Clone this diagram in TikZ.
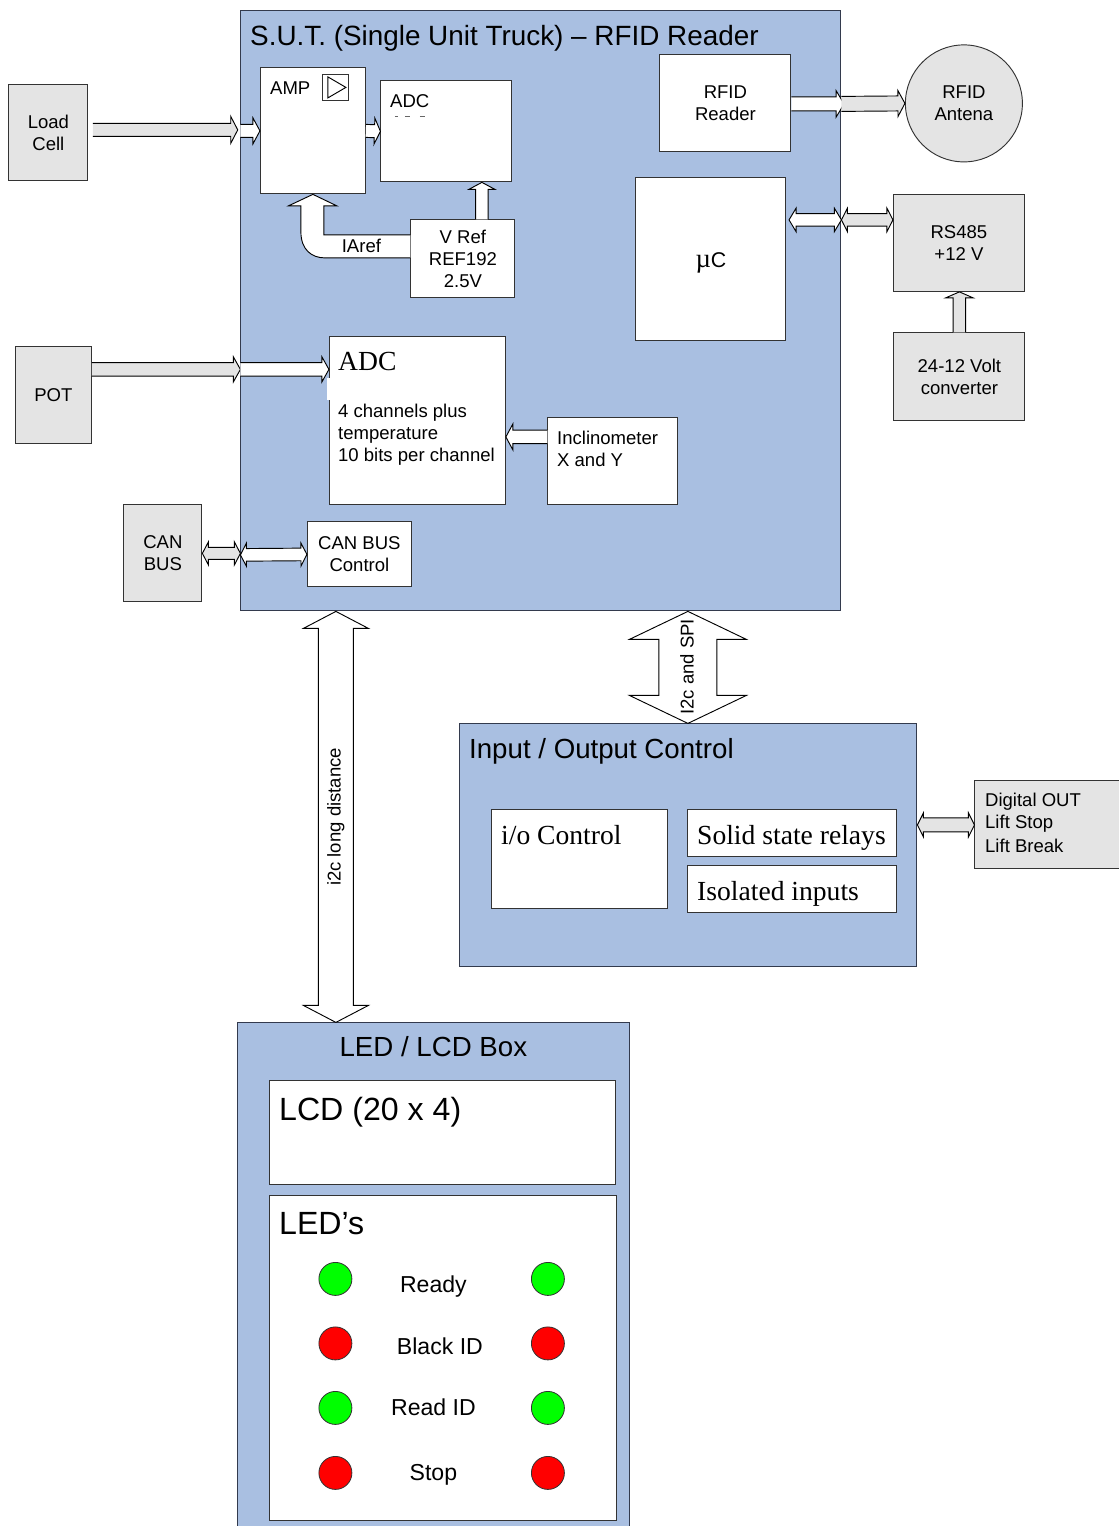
\documentclass[tikz,border=0pt]{standalone}
\usepackage{fontspec}
\setmainfont{Liberation Sans}
\newfontfamily\timesface{Liberation Serif}
\usetikzlibrary{calc}
\def\px{0.75pt}
\definecolor{boxblue}{HTML}{A9BFE1}
\definecolor{boxgray}{HTML}{E4E4E4}
\definecolor{edgeblue}{HTML}{333A4D}
\definecolor{ledgreen}{HTML}{00FF00}
\definecolor{ledred}{HTML}{FF0000}
\tikzset{
 size/.style 2 args={minimum width=#1*\px,minimum height=#2*\px},
 plain/.style={font=\fontsize{13.9}{16.5}\selectfont,inner sep=0pt,align=center},
 bluebox/.style={plain,draw=edgeblue,fill=boxblue,line width=\px},
 graybox/.style={plain,draw=black!80,fill=boxgray,line width=0.7pt},
 whitebox/.style={plain,draw=black!80,fill=white,line width=0.7pt},
 label/.style={plain,align=left,anchor=west},
 title/.style={label,font=\fontsize{20.75}{25}\selectfont},
 bigtitle/.style={label,font=\fontsize{24.1}{28}\selectfont},
 serif/.style={label,font=\timesface\fontsize{20.7}{25}\selectfont},
 ledtext/.style={plain,font=\fontsize{17.3}{20}\selectfont},
 led/.style={circle,draw=black!80,line width=0.6pt,minimum size=33*\px,inner sep=0pt},
 whitearrow/.style={draw=black,fill=white,line width=0.7pt},
 grayarrow/.style={draw=black,fill=boxgray,line width=0.7pt},
 oneway/.style n args={3}{to path={
  let \p1=($(\tikztotarget)!#3*\px!(\tikztostart)$) in
  ($(\tikztostart)!#1*\px!90:(\tikztotarget)$)
  -- ($(\p1)!#1*\px!-90:(\tikztostart)$) -- ($(\p1)!#2*\px!-90:(\tikztostart)$)
  -- (\tikztotarget)
  -- ($(\p1)!#2*\px!90:(\tikztostart)$) -- ($(\p1)!#1*\px!90:(\tikztostart)$)
  -- ($(\tikztostart)!#1*\px!-90:(\tikztotarget)$)}},
 twoway/.style n args={3}{to path={
  let \p1=($(\tikztotarget)!#3*\px!(\tikztostart)$),
      \p2=($(\tikztostart)!#3*\px!(\tikztotarget)$) in
  ($(\p2)!#1*\px!90:(\tikztotarget)$)
  -- ($(\p1)!#1*\px!-90:(\tikztostart)$) -- ($(\p1)!#2*\px!-90:(\tikztostart)$)
  -- (\tikztotarget)
  -- ($(\p1)!#2*\px!90:(\tikztostart)$) -- ($(\p1)!#1*\px!90:(\tikztostart)$)
  -- ($(\p2)!#1*\px!-90:(\tikztotarget)$) -- ($(\p2)!#2*\px!-90:(\tikztotarget)$)
  -- (\tikztostart)
  -- ($(\p2)!#2*\px!90:(\tikztotarget)$) -- cycle}}
}
\begin{document}
\begin{tikzpicture}[x=\px,y=-\px]
\useasboundingbox (0.1,0.1) rectangle (1118.1,1526.1);

% big boxes
\node[bluebox,size={600}{600}](sut) at (541,311){};
\node[bluebox,size={457}{243}](iobox) at (688.5,845.5){};
\node[bluebox,size={392}{520}](ledbox) at (434,1283){};

% truck unit
\node[graybox,size={79}{96}](loadcell) at (48.5,133){Load\\Cell};
\node[whitebox,size={105}{126}](amp) at (313,131){};
\node[whitebox,size={131}{101}](adcin) at (446.5,131.5){};
\node[whitebox,size={104}{78}](vref) at (463,259){V Ref\\REF192\\2.5V};
\node[whitebox,size={131}{97}](rfid) at (725.5,103.5){RFID\\Reader};
\node[graybox,circle,minimum size=117*\px](antena) at (964,103.5){RFID\\Antena};
\node[whitebox,size={150}{163}](uc) at (711,259.5){};
\node[graybox,size={131}{97}](rs485) at (959,243){RS485\\+12 V};
\node[graybox,size={131}{88}](conv) at (959.5,377){24-12 Volt\\converter};
\node[graybox,size={76}{97}](pot) at (53.5,395){POT};
\node[whitebox,size={176}{168}](adc) at (417.5,421){};
\node[whitebox,size={130}{87}](incl) at (613,461.5){};
\node[graybox,size={78}{97}](canbus) at (163,553.5){CAN\\BUS};
\node[whitebox,size={104}{65}](cancontrol) at (359.5,554.5){CAN BUS\\Control};
\fill[white] (327,378) rectangle (330,400);
\node[whitebox,size={26}{26}](ampsym) at (335.5,87.5){};
\draw[line width=0.7pt] (328,77) -- (346,87.5) -- (328,98) -- cycle;
\draw[black!60,line width=0.5pt] (395,116) -- (398,116) (405,116) -- (410,116) (420,116) -- (425,116);

% input / output
\node[whitebox,size={176}{99}](iocontrol) at (580,859.5){};
\node[whitebox,size={209}{47}](relays) at (792.5,833.5){};
\node[whitebox,size={209}{47}](isolated) at (792.5,889.5){};
\node[graybox,size={150}{88}](digout) at (1050,824.5){};

% display box
\node[whitebox,size={346}{104}](lcd) at (443,1133){};
\node[whitebox,size={347}{325}](leds) at (443.5,1358.5){};
\foreach \y/\c in {1279/ledgreen,1343.5/ledred,1408/ledgreen,1473/ledred}{
 \node[led,fill=\c](ledl\y) at (335.5,\y){};
 \node[led,fill=\c](ledr\y) at (548,\y){};
}

% connectors
\draw[grayarrow,oneway={6.5}{13.5}{7}] (93,130) to ([xshift=-2pt]sut.west |- 0,130);
\draw[whitearrow,oneway={6.5}{13}{7}] (sut.west |- 0,131) to (amp.west);
\draw[whitearrow,oneway={6.5}{13}{6}] (amp.east) to (adcin.west);
\draw[whitearrow,oneway={6.3}{13}{7}] (482,0 |- vref.north) to (482,0 |- adcin.south);
\draw[whitearrow] (vref.west |- 0,235) -- (324,235) -- (324,206) -- (337,206) -- (amp.south)
 -- (288.5,206) -- (301,206) -- (301,232) .. controls (301,250) and (312,258) .. (325,258)
 -- (vref.west |- 0,258);
\draw[whitearrow,oneway={7}{13.3}{8}] (rfid.east |- 0,104) to ([xshift=2pt]sut.east |- 0,104);
\draw[grayarrow,oneway={7.5}{13}{7}] (sut.east |- 0,104) to (antena.west);
\draw[whitearrow,twoway={6.2}{11.7}{7}] ([xshift=2pt]uc.east |- 0,220) to (sut.east |- 0,220);
\draw[grayarrow,twoway={6.3}{11.7}{6}] (sut.east |- 0,220) to (rs485.west |- 0,220);
\draw[grayarrow,oneway={6.3}{13.7}{6}] (conv.north) to (rs485.south -| conv.north);
\draw[grayarrow,oneway={6.7}{12.5}{7}] (pot.east |- 0,369.5) to (sut.west |- 0,369.5);
\draw[whitearrow,oneway={6.7}{12.5}{7}] (sut.west |- 0,369.5) to (adc.west |- 0,369.5);
\draw[whitearrow,oneway={6.7}{13}{7}] (incl.west |- 0,437) to (adc.east |- 0,437);
\draw[grayarrow,twoway={6}{11.5}{6}] (canbus.east) to (sut.west |- canbus.east);
\draw[whitearrow,twoway={6.3}{11.5}{6}] (sut.west |- 0,555) to (cancontrol.west);
\draw[whitearrow,twoway={17.5}{32.5}{17}] (336,0 |- sut.south) to (336,0 |- ledbox.north);
\draw[whitearrow,twoway={29}{58.5}{28}] (688,0 |- sut.south) to (688,0 |- iobox.north);
\draw[grayarrow,twoway={7}{12}{6}] (iobox.east |- 0,825) to (digout.west |- 0,825);

% texts
\node[title,font=\fontsize{20.9}{25}\selectfont](suttitle) at (250,38){S.U.T. (Single Unit Truck) -- RFID Reader};
\node[label](amplabel) at (270,88){AMP};
\node[label](adcinlabel) at (390,101){ADC};
\node[plain](ireflabel) at (361.5,246){IAref};
\node[plain,font=\fontsize{16}{20}\selectfont](uclabel) at (711,263){{\timesface\fontsize{20}{20}\selectfont µ}C};
\node[serif](adclabel) at (338,362){ADC};
\node[label](adctext) at (338,435){4 channels plus\\temperature\\10 bits per channel};
\node[label](incltext) at (557,449){Inclinometer\\X and Y};
\node[title](iotitle) at (469,751){Input / Output Control};
\node[serif](iotext) at (501,835){i/o Control};
\node[serif](relaystext) at (697,838){Solid state relays};
\node[serif](isolatedtext) at (697,894){Isolated inputs};
\node[label](digtext) at (985,823){Digital OUT\\Lift Stop\\[1pt]Lift Break};
\node[plain,rotate=90](longlabel) at (336,817){i2c long distance};
\node[plain,rotate=90](spilabel) at (687,667){I2c and SPI};
\node[title,anchor=center](ledtitle) at (433.5,1047){LED / LCD Box};
\node[bigtitle](lcdtitle) at (279,1112){LCD (20 x 4)};
\node[bigtitle](ledstitle) at (279,1224){LED’s};
\node[ledtext](readytext) at (433.5,1287){Ready};
\node[ledtext](blacktext) at (440,1346.5){Black ID};
\node[ledtext](readtext) at (433.5,1407.5){Read ID};
\node[ledtext](stoptext) at (433.5,1475){Stop};
\end{tikzpicture}
\end{document}
